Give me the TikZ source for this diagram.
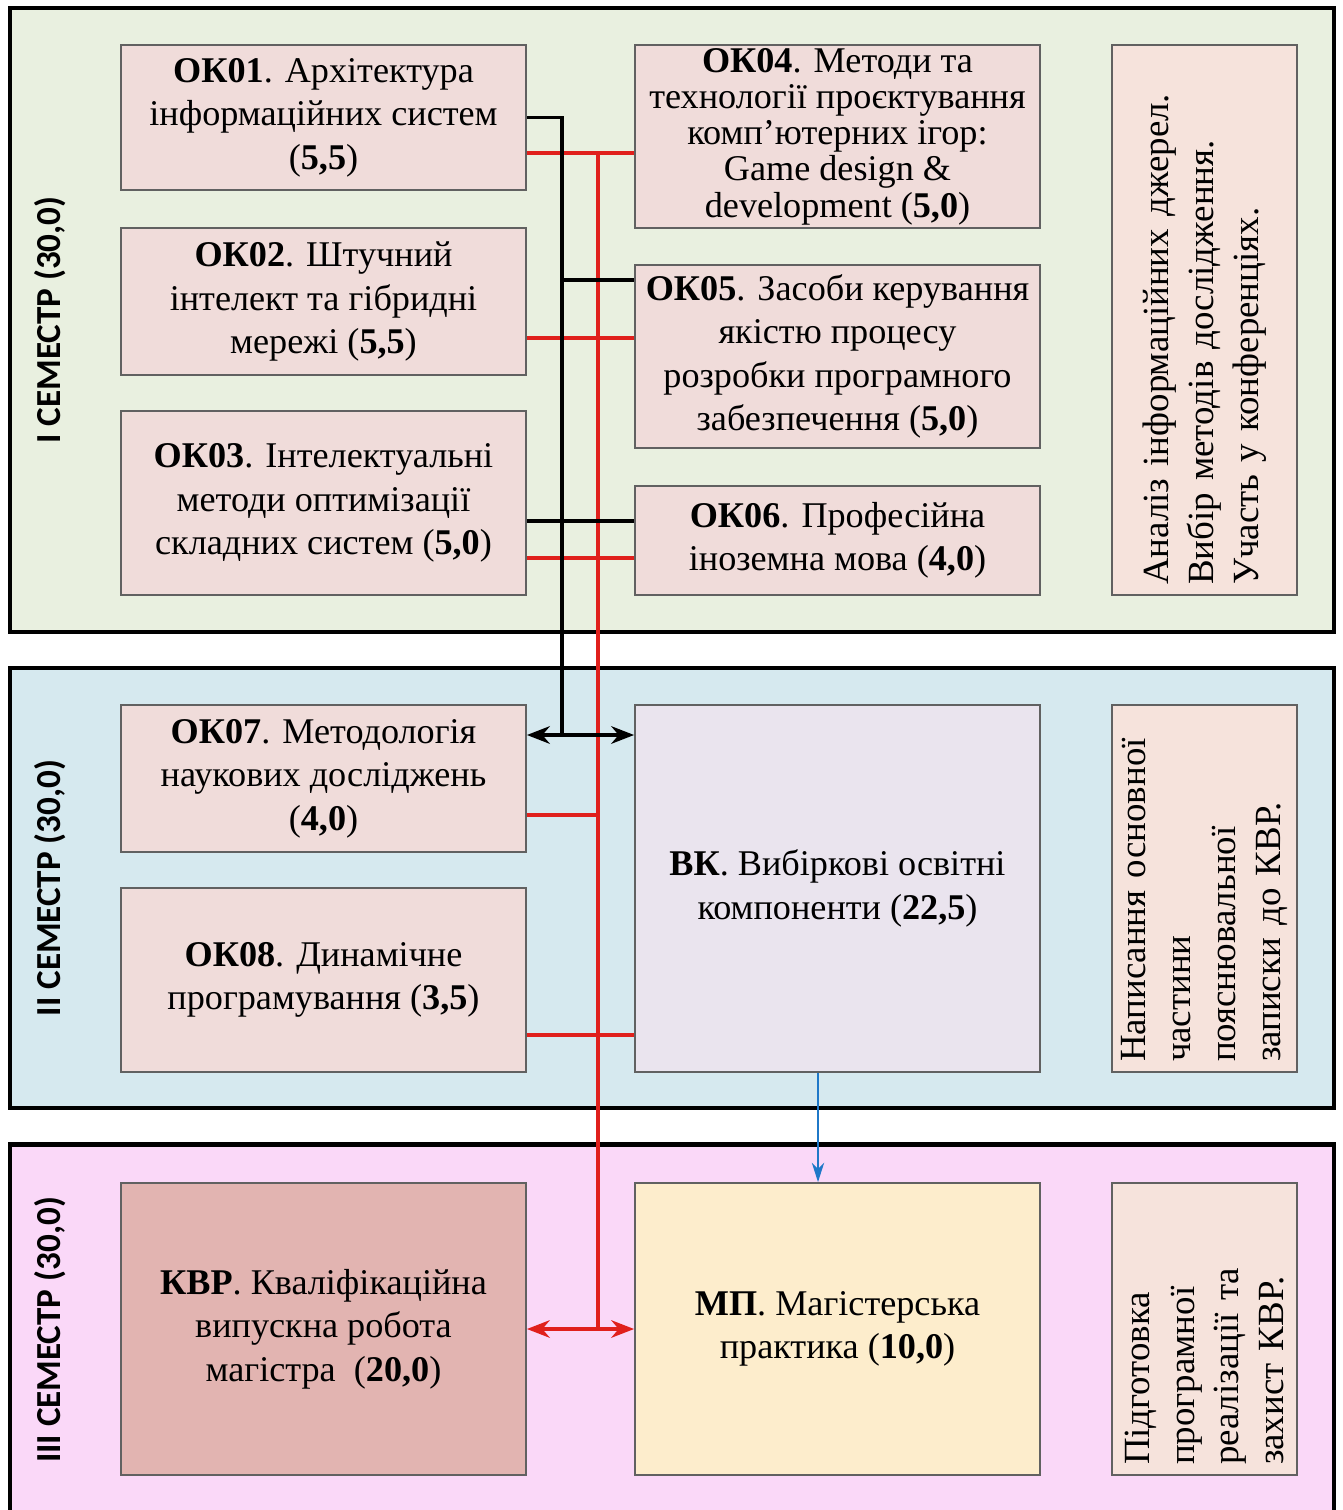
\documentclass[tikz,border=0pt]{standalone}
\usepackage{fontspec}
\setmainfont{Liberation Serif}
\newfontfamily\semfont{Carlito}
\usetikzlibrary{arrows.meta}

\definecolor{semA}{HTML}{E9F0E0}
\definecolor{semB}{HTML}{D6E9EF}
\definecolor{semC}{HTML}{FAD8F8}
\definecolor{okfill}{HTML}{F0DCDA}
\definecolor{notefill}{HTML}{F6E3DC}
\definecolor{vkfill}{HTML}{EAE4EE}
\definecolor{kvrfill}{HTML}{E2B4B1}
\definecolor{mpfill}{HTML}{FDEDCC}
\definecolor{linkred}{HTML}{E0201C}
\definecolor{linkblue}{HTML}{1F78C8}

\newcommand{\boxfont}{\fontsize{20.6}{24.8}\selectfont}
\newcommand{\notefont}{\fontsize{21}{25.5}\selectfont}

\tikzset{
  panel/.style={draw=black, line width=2.6pt, minimum width=26.48cm},
  okbox/.style={draw=black!62, line width=1.1pt, fill=okfill, minimum width=8.1cm,
    align=center, font=\boxfont, inner sep=2pt},
  notebox/.style={draw=black!62, line width=1.1pt, fill=notefill, minimum width=3.7cm},
  notetext/.style={rotate=90, align=left, font=\notefont, inner sep=0pt},
  semlabel/.style={rotate=90, font=\semfont\bfseries\fontsize{20}{24}\selectfont},
  blk/.style={draw=black, line width=2.1pt},
  rd/.style={draw=linkred, line width=1.9pt},
  bl/.style={draw=linkblue, line width=1.3pt, -{Stealth[length=11pt,width=7pt]}},
  tips/.style={{Stealth[length=13pt,width=10pt]}-{Stealth[length=13pt,width=10pt]}}
}

\begin{document}
\begin{tikzpicture}[x=0.02cm, y=-0.02cm]
  \useasboundingbox (0,0) rectangle (1342,1510);

  \begin{scope}
    \node[panel, fill=semA, minimum height=12.48cm] (s1) at (672,320) {};
    \node[panel, fill=semB, minimum height=8.8cm] (s2) at (672,888) {};
    \node[panel, fill=semC, minimum height=7.5cm] (s3) at (672,1332) {};
  \end{scope}

  \node[semlabel] (l1) at (50,320) {I СЕМЕСТР (30,0)};
  \node[semlabel] (l2) at (50,888) {II СЕМЕСТР (30,0)};
  \node[semlabel] (l3) at (50,1330) {III СЕМЕСТР (30,0)};

  \begin{scope}[every node/.style={okbox}]
    \node[minimum height=2.9cm] (ok1) at (323.5,117.5)
      {\textbf{ОК01}. Архітектура\\інформаційних систем\\(\textbf{5,5})};
    \node[minimum height=2.94cm] (ok2) at (323.5,301.5)
      {\textbf{ОК02}. Штучний\\інтелект та гібридні\\мережі (\textbf{5,5})};
    \node[minimum height=3.68cm] (ok3) at (323.5,503)
      {\textbf{ОК03}. Інтелектуальні\\методи оптимізації\\складних систем (\textbf{5,0})};
    \node[minimum height=3.66cm, font=\fontsize{20.6}{20.6}\selectfont] (ok4) at (837.5,136.5)
      {\textbf{ОК04}. Методи та\\технології проєктування\\комп’ютерних ігор:\\Game design \&\\development (\textbf{5,0})};
    \node[minimum height=3.66cm] (ok5) at (837.5,356.5)
      {\textbf{ОК05}. Засоби керування\\якістю процесу\\розробки програмного\\забезпечення (\textbf{5,0})};
    \node[minimum height=2.18cm] (ok6) at (837.5,540.5)
      {\textbf{ОК06}. Професійна\\іноземна мова (\textbf{4,0})};
    \node[minimum height=2.94cm] (ok7) at (323.5,778.5)
      {\textbf{ОК07}. Методологія\\наукових досліджень\\(\textbf{4,0})};
    \node[minimum height=3.68cm] (ok8) at (323.5,980)
      {\textbf{ОК08}. Динамічне\\програмування (\textbf{3,5})};
    \node[minimum height=7.34cm, fill=vkfill] (vk) at (837.5,888.5)
      {\textbf{ВК}. Вибіркові освітні\\компоненти (\textbf{22,5})};
    \node[minimum height=5.84cm, fill=kvrfill] (kvr) at (323.5,1329)
      {\textbf{КВР}. Кваліфікаційна\\випускна робота\\магістра~ (\textbf{20,0})};
    \node[minimum height=5.84cm, fill=mpfill] (mp) at (837.5,1329)
      {\textbf{МП}. Магістерська\\практика (\textbf{10,0})};
  \end{scope}

  \node[notebox, minimum height=11cm] (n1) at (1204.5,320) {};
  \node[notebox, minimum height=7.34cm] (n2) at (1204.5,888.5) {};
  \node[notebox, minimum height=5.84cm] (n3) at (1204.5,1329) {};
  \node[notetext, text width=10.6cm] (n1t) at (n1)
    {Аналіз інформаційних джерел.\\Вибір методів дослідження.\\Участь у конференціях.};
  \node[notetext, text width=6.94cm] (n2t) at (n2)
    {Написання основної\\частини\\пояснювальної\\записки до КВР.};
  \node[notetext, text width=5.44cm] (n3t) at (n3)
    {Підготовка\\програмної\\реалізації та\\захист КВР.};

  \coordinate (b1) at (562,280);
  \coordinate (b2) at (562,521);
  \coordinate (b3) at (562,735);
  \coordinate (r1) at (598,153);
  \coordinate (r2) at (598,338);
  \coordinate (r3) at (598,558);
  \coordinate (r4) at (598,815);
  \coordinate (r5) at (598,1035);
  \coordinate (bx) at (818,0);

  \draw[rd] (r1 -| ok1.east) -- (r1 -| ok4.west);
  \draw[rd] (r2 -| ok2.east) -- (r2 -| ok5.west);
  \draw[rd] (r3 -| ok3.east) -- (r3 -| ok6.west);
  \draw[rd] (r4 -| ok7.east) -- (r4);
  \draw[rd] (r5 -| ok8.east) -- (r5 -| vk.west);
  \draw[rd] (r1) -- (r1 |- kvr.east);
  \draw[rd, tips] (kvr.east) -- (mp.west);

  \draw[blk] (ok1.east) -| (b3);
  \draw[blk] (b1) -- (b1 -| ok5.west);
  \draw[blk] (b2 -| ok3.east) -- (b2 -| ok6.west);
  \draw[blk, tips] (b3 -| ok7.east) -- (b3 -| vk.west);

  \draw[bl] (vk.south -| bx) -- (mp.north -| bx);
\end{tikzpicture}
\end{document}
